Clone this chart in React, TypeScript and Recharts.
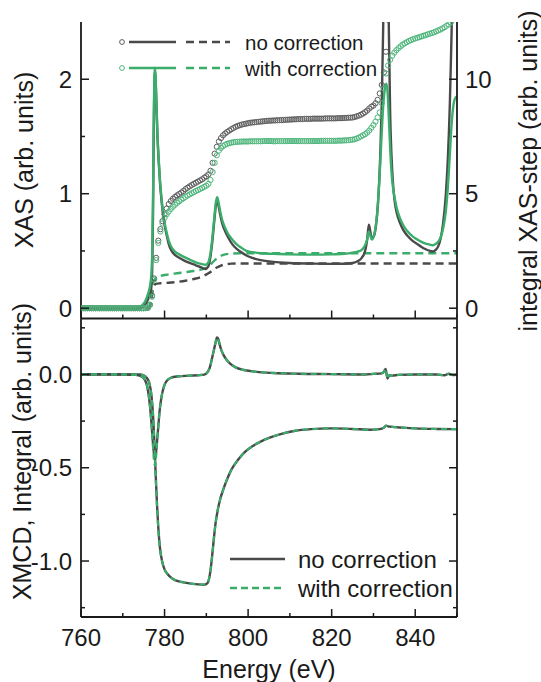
import React from 'react';
import { ComposedChart, Line, Scatter, XAxis, YAxis, Legend } from 'recharts';

const FONT = '"Liberation Sans", Arial, Helvetica, sans-serif';
const INK = '#1a1a1a';
const GRAY = '#4a4a4a';
const GREEN = '#3aad6a';
const GRAY_C = '#5c5c5c';
const GREEN_C = '#4db67b';

// ---------- axis ticks ----------
const xTicks = [760, 770, 780, 790, 800, 810, 820, 830, 840, 850];
const xMajor = [760, 780, 800, 820, 840];
const xasTicks = [0, 0.5, 1, 1.5, 2];
const xasMajor = [0, 1, 2];
const stepTicks = [0, 2.5, 5, 7.5, 10];
const stepMajor = [0, 5, 10];
const xmcdTicks = [0.25, 0, -0.25, -0.5, -0.75, -1, -1.25];
const xmcdMajor = [0, -0.5, -1];

// ---------- top panel: XAS (left axis) ----------
const xasNoCorr: [number, number][] = [
  [760, 0], [765, 0], [770, 0], [773, 0], [774, 0.005], [775, 0.02], [775.7, 0.05], [776.3, 0.1], [776.8, 0.17],
  [777.05, 0.35], [777.25, 0.85], [777.4, 1.5], [777.55, 1.95], [777.7, 2.08], [777.85, 2.0], [778.05, 1.78],
  [778.3, 1.5], [778.6, 1.28], [778.9, 1.1], [779.3, 0.93], [779.7, 0.8], [780.1, 0.71], [780.5, 0.64], [781, 0.56],
  [781.7, 0.5], [782.5, 0.465], [783.5, 0.44], [784.5, 0.42], [786, 0.395], [787.5, 0.375], [789, 0.352],
  [789.8, 0.342], [790.4, 0.36], [790.9, 0.43], [791.4, 0.57], [791.9, 0.76], [792.3, 0.9], [792.6, 0.94],
  [792.9, 0.9], [793.3, 0.82], [793.8, 0.74], [794.4, 0.68], [795.2, 0.62], [796.2, 0.56], [797.2, 0.52],
  [798.3, 0.49], [799.6, 0.46], [801, 0.44], [803, 0.42], [806, 0.405], [810, 0.395], [815, 0.39], [820, 0.387],
  [823, 0.388], [825, 0.395], [826.2, 0.41], [827.2, 0.44], [828, 0.5], [828.5, 0.6], [828.9, 0.73], [829.2, 0.68],
  [829.6, 0.61], [830.1, 0.63], [830.6, 0.72], [831.1, 0.92], [831.6, 1.3], [832, 1.8], [832.4, 2.6], [832.8, 3.4],
  [833.1, 3.6], [833.4, 3.3], [833.7, 2.4], [834, 1.7], [834.3, 1.35], [834.7, 1.08], [835.1, 0.93], [835.6, 0.83],
  [836.3, 0.75], [837.2, 0.68], [838.2, 0.63], [839.3, 0.59], [840.5, 0.56], [841.5, 0.535], [842.5, 0.515],
  [843.5, 0.5], [844.2, 0.495], [844.9, 0.51], [845.5, 0.54], [846.1, 0.61], [846.7, 0.75], [847.3, 0.98],
  [847.8, 1.3], [848.3, 1.8], [848.7, 2.4], [849.1, 3.2], [849.5, 3.6], [849.8, 3.4], [850, 3.1],
];
const xasWithCorr: [number, number][] = [
  [760, 0], [765, 0], [770, 0], [773, 0], [774, 0.01], [775, 0.04], [775.5, 0.07], [776, 0.12], [776.5, 0.19],
  [776.85, 0.3], [777.05, 0.5], [777.25, 1.0], [777.4, 1.6], [777.55, 2.0], [777.7, 2.1], [777.85, 2.02],
  [778.05, 1.8], [778.3, 1.52], [778.6, 1.3], [778.9, 1.12], [779.3, 0.95], [779.7, 0.82], [780.1, 0.73],
  [780.5, 0.66], [781, 0.59], [781.7, 0.53], [782.5, 0.495], [783.5, 0.47], [784.5, 0.45], [786, 0.425],
  [787.5, 0.4], [789, 0.385], [789.8, 0.38], [790.4, 0.395], [790.9, 0.46], [791.4, 0.6], [791.9, 0.79],
  [792.3, 0.93], [792.6, 0.97], [792.9, 0.93], [793.3, 0.85], [793.8, 0.77], [794.4, 0.71], [795.2, 0.65],
  [796.2, 0.6], [797.2, 0.56], [798.3, 0.53], [799.6, 0.5], [801, 0.49], [803, 0.48], [806, 0.475], [810, 0.47],
  [815, 0.468], [820, 0.47], [823, 0.475], [825, 0.485], [826.2, 0.495], [827.2, 0.51], [828, 0.55], [828.5, 0.6],
  [828.9, 0.67], [829.2, 0.64], [829.6, 0.6], [830.1, 0.63], [830.6, 0.73], [831.1, 0.93], [831.6, 1.25],
  [832, 1.55], [832.4, 1.8], [832.8, 1.93], [833.1, 1.96], [833.4, 1.88], [833.7, 1.65], [834, 1.4], [834.3, 1.2],
  [834.7, 1.05], [835.1, 0.96], [835.6, 0.87], [836.3, 0.79], [837.2, 0.72], [838.2, 0.67], [839.3, 0.63],
  [840.5, 0.6], [841.5, 0.58], [842.5, 0.565], [843.5, 0.555], [844.2, 0.55], [844.9, 0.56], [845.5, 0.58],
  [846.1, 0.62], [846.7, 0.7], [847.3, 0.84], [847.8, 1.05], [848.3, 1.35], [848.7, 1.6], [849.1, 1.76],
  [849.5, 1.83], [850, 1.85],
];

// ---------- top panel: step functions (left axis) ----------
const stepNoCorr: [number, number][] = [
  [760, 0], [776, 0], [776.6, 0.03], [777, 0.12], [777.4, 0.19], [777.9, 0.212], [779, 0.218], [781, 0.222], [783, 0.23],
  [785, 0.24], [787, 0.255], [788.5, 0.27], [789.5, 0.285], [790.5, 0.305], [791.5, 0.33], [792.5, 0.355], [793.5, 0.372],
  [794.5, 0.383], [796, 0.389], [798, 0.391], [850, 0.391],
];
const stepWithCorr: [number, number][] = [
  [760, 0], [776, 0], [776.6, 0.05], [777, 0.17], [777.4, 0.24], [777.9, 0.26], [779, 0.28], [781, 0.295], [783, 0.305],
  [785, 0.315], [787, 0.325], [788.5, 0.335], [789.5, 0.345], [790.5, 0.365], [791.5, 0.4], [792.5, 0.435], [793.5, 0.458],
  [794.5, 0.47], [796, 0.477], [798, 0.48], [850, 0.48],
];

// ---------- top panel: integral of XAS-step (right axis), 0.5 eV grid ----------
const intEnergy = [
  760, 760.5, 761, 761.5, 762, 762.5, 763, 763.5, 764, 764.5,
  765, 765.5, 766, 766.5, 767, 767.5, 768, 768.5, 769, 769.5,
  770, 770.5, 771, 771.5, 772, 772.5, 773, 773.5, 774, 774.5,
  775, 775.5, 776, 776.5, 777, 777.5, 778, 778.5, 779, 779.5,
  780, 780.5, 781, 781.5, 782, 782.5, 783, 783.5, 784, 784.5,
  785, 785.5, 786, 786.5, 787, 787.5, 788, 788.5, 789, 789.5,
  790, 790.5, 791, 791.5, 792, 792.5, 793, 793.5, 794, 794.5,
  795, 795.5, 796, 796.5, 797, 797.5, 798, 798.5, 799, 799.5,
  800, 800.5, 801, 801.5, 802, 802.5, 803, 803.5, 804, 804.5,
  805, 805.5, 806, 806.5, 807, 807.5, 808, 808.5, 809, 809.5,
  810, 810.5, 811, 811.5, 812, 812.5, 813, 813.5, 814, 814.5,
  815, 815.5, 816, 816.5, 817, 817.5, 818, 818.5, 819, 819.5,
  820, 820.5, 821, 821.5, 822, 822.5, 823, 823.5, 824, 824.5,
  825, 825.5, 826, 826.5, 827, 827.5, 828, 828.5, 829, 829.5,
  830, 830.5, 831, 831.5, 832, 832.5, 833, 833.5, 834, 834.5,
  835, 835.5, 836, 836.5, 837, 837.5, 838, 838.5, 839, 839.5,
  840, 840.5, 841, 841.5, 842, 842.5, 843, 843.5, 844, 844.5,
  845, 845.5, 846, 846.5, 847, 847.5, 848, 848.5, 849, 849.5,
  850,
];
const intNoCorr = [
  0, 0, 0, 0, 0, 0, 0, 0, 0, 0,
  0, 0, 0, 0, 0, 0, 0, 0, 0, 0,
  0, 0, 0, 0, 0, 0, 0, 0, 0, 0,
  0, 0.005, 0.02, 0.15, 0.55, 1.3, 2.2, 2.95, 3.45, 3.8,
  4.1, 4.35, 4.55, 4.68, 4.78, 4.86, 4.93, 4.99, 5.05, 5.12,
  5.2, 5.26, 5.32, 5.38, 5.43, 5.48, 5.53, 5.58, 5.63, 5.7,
  5.76, 5.84, 6.0, 6.35, 6.75, 7.05, 7.28, 7.43, 7.55, 7.63,
  7.7, 7.76, 7.82, 7.87, 7.92, 7.96, 7.99, 8.02, 8.04, 8.06,
  8.08, 8.1, 8.11, 8.12, 8.13, 8.14, 8.15, 8.16, 8.17, 8.18,
  8.19, 8.19, 8.2, 8.2, 8.21, 8.21, 8.22, 8.22, 8.23, 8.23,
  8.24, 8.24, 8.25, 8.25, 8.26, 8.26, 8.26, 8.27, 8.27, 8.27,
  8.27, 8.28, 8.28, 8.28, 8.28, 8.28, 8.28, 8.29, 8.29, 8.29,
  8.29, 8.29, 8.29, 8.3, 8.3, 8.3, 8.31, 8.31, 8.32, 8.32,
  8.33, 8.35, 8.38, 8.41, 8.45, 8.5, 8.56, 8.63, 8.72, 8.8,
  8.85, 8.95, 9.1, 9.38, 9.75, 10.3, 11.2, 12.6, 14.0,
];
const intWithCorr = [
  0, 0, 0, 0, 0, 0, 0, 0, 0, 0,
  0, 0, 0, 0, 0, 0, 0, 0, 0, 0,
  0, 0, 0, 0, 0, 0, 0, 0, 0, 0,
  0, 0.005, 0.02, 0.15, 0.5, 1.25, 2.1, 2.85, 3.35, 3.7,
  3.95, 4.1, 4.22, 4.33, 4.43, 4.52, 4.6, 4.67, 4.74, 4.8,
  4.86, 4.92, 4.97, 5.02, 5.07, 5.12, 5.16, 5.21, 5.25, 5.3,
  5.35, 5.43, 5.6, 5.95, 6.35, 6.68, 6.88, 7.0, 7.08, 7.14,
  7.18, 7.21, 7.23, 7.25, 7.26, 7.27, 7.27, 7.28, 7.28, 7.28,
  7.28, 7.29, 7.29, 7.29, 7.29, 7.29, 7.29, 7.3, 7.3, 7.3,
  7.3, 7.3, 7.29, 7.29, 7.3, 7.3, 7.3, 7.3, 7.3, 7.3,
  7.3, 7.3, 7.3, 7.3, 7.3, 7.3, 7.3, 7.3, 7.3, 7.3,
  7.3, 7.3, 7.3, 7.3, 7.3, 7.31, 7.31, 7.31, 7.31, 7.31,
  7.31, 7.31, 7.31, 7.32, 7.32, 7.32, 7.33, 7.33, 7.34, 7.35,
  7.36, 7.38, 7.41, 7.45, 7.5, 7.55, 7.6, 7.67, 7.76, 7.88,
  8.0, 8.15, 8.33, 8.55, 8.95, 9.6, 10.25, 10.6, 10.85, 11.03,
  11.16, 11.27, 11.36, 11.44, 11.51, 11.57, 11.62, 11.67, 11.71, 11.75,
  11.78, 11.81, 11.84, 11.87, 11.9, 11.93, 11.96, 11.99, 12.02, 12.05,
  12.09, 12.13, 12.17, 12.22, 12.27, 12.33, 12.4, 12.48, 12.6, 12.75,
  12.9,
];

// ---------- bottom panel: XMCD and its integral ----------
const xmcdNoCorr: [number, number][] = [
  [760, 0], [765, 0.001], [770, 0], [773, -0.002], [774.5, -0.01], [775.3, -0.03], [775.8, -0.06], [776.2, -0.11],
  [776.6, -0.19], [776.9, -0.27], [777.2, -0.36], [777.45, -0.42], [777.7, -0.445], [777.95, -0.42], [778.2, -0.36],
  [778.5, -0.28], [778.8, -0.2], [779.2, -0.13], [779.6, -0.085], [780.1, -0.05], [780.8, -0.028], [781.5, -0.018],
  [782.5, -0.012], [784, -0.009], [786, -0.006], [788, -0.004], [789.5, -0.001], [790.2, 0.01], [790.8, 0.035],
  [791.3, 0.08], [791.8, 0.13], [792.2, 0.17], [792.55, 0.198], [792.85, 0.19], [793.2, 0.16], [793.6, 0.13],
  [794.1, 0.105], [794.8, 0.08], [795.7, 0.058], [797, 0.038], [799, 0.024], [802, 0.014], [806, 0.008], [812, 0.004],
  [820, 0.002], [828, 0], [830, 0.003], [832, 0.006], [832.6, 0.018], [832.9, 0.03], [833.15, 0], [833.4, -0.022],
  [833.7, -0.005], [834.5, -0.006], [836, -0.002], [840, 0], [845, 0], [847, -0.004], [848, 0.004], [849, -0.003],
  [850, 0],
];
const xmcdWithCorr: [number, number][] = [
  [760, 0], [765, 0.001], [770, 0], [773, -0.002], [774.5, -0.01], [775.3, -0.03], [775.8, -0.06], [776.2, -0.11],
  [776.6, -0.19], [776.9, -0.28], [777.2, -0.38], [777.45, -0.46], [777.7, -0.49], [777.95, -0.45], [778.2, -0.37],
  [778.5, -0.28], [778.8, -0.2], [779.2, -0.13], [779.6, -0.085], [780.1, -0.05], [780.8, -0.028], [781.5, -0.018],
  [782.5, -0.012], [784, -0.009], [786, -0.006], [788, -0.004], [789.5, -0.001], [790.2, 0.01], [790.8, 0.035],
  [791.3, 0.08], [791.8, 0.13], [792.2, 0.17], [792.55, 0.198], [792.85, 0.19], [793.2, 0.16], [793.6, 0.13],
  [794.1, 0.105], [794.8, 0.08], [795.7, 0.058], [797, 0.038], [799, 0.024], [802, 0.014], [806, 0.008], [812, 0.004],
  [820, 0.002], [828, 0], [830, 0.003], [832, 0.006], [832.6, 0.02], [832.9, 0.032], [833.15, 0], [833.4, -0.024],
  [833.7, -0.005], [834.5, -0.006], [836, -0.002], [840, 0], [845, 0], [847, -0.004], [848, 0.004], [849, -0.003],
  [850, 0],
];
const integralNoCorr: [number, number][] = [
  [760, 0], [774, 0], [775, -0.005], [775.8, -0.02], [776.4, -0.05], [776.9, -0.12], [777.3, -0.24], [777.6, -0.38],
  [777.9, -0.55], [778.2, -0.7], [778.5, -0.82], [778.9, -0.93], [779.4, -1.0], [780, -1.045], [780.7, -1.07],
  [781.5, -1.088], [782.5, -1.102], [784, -1.112], [786, -1.12], [788, -1.125], [789.5, -1.127], [790.2, -1.12],
  [790.6, -1.1], [791, -1.05], [791.4, -0.97], [791.8, -0.88], [792.2, -0.8], [792.7, -0.73], [793.3, -0.67],
  [794, -0.62], [795, -0.56], [796, -0.51], [797.5, -0.46], [799, -0.42], [801, -0.385], [803, -0.36], [805, -0.34],
  [808, -0.318], [811, -0.303], [815, -0.293], [820, -0.289], [825, -0.292], [829, -0.296], [831.5, -0.293],
  [832.5, -0.285], [833, -0.274], [833.5, -0.278], [834.5, -0.281], [837, -0.285], [840, -0.289], [845, -0.292],
  [850, -0.293],
];
const integralWithCorr: [number, number][] = [
  [760, 0], [774, 0], [775, -0.005], [775.8, -0.02], [776.4, -0.05], [776.9, -0.12], [777.3, -0.245], [777.6, -0.39],
  [777.9, -0.56], [778.2, -0.71], [778.5, -0.825], [778.9, -0.932], [779.4, -1.0], [780, -1.045], [780.7, -1.07],
  [781.5, -1.088], [782.5, -1.102], [784, -1.112], [786, -1.12], [788, -1.125], [789.5, -1.126], [790.2, -1.12],
  [790.6, -1.1], [791, -1.05], [791.4, -0.97], [791.8, -0.88], [792.2, -0.8], [792.7, -0.73], [793.3, -0.67],
  [794, -0.62], [795, -0.56], [796, -0.51], [797.5, -0.46], [799, -0.42], [801, -0.385], [803, -0.36], [805, -0.34],
  [808, -0.318], [811, -0.303], [815, -0.293], [820, -0.289], [825, -0.292], [829, -0.296], [831.5, -0.293],
  [832.5, -0.285], [833, -0.274], [833.5, -0.278], [834.5, -0.281], [837, -0.285], [840, -0.289], [845, -0.292],
  [850, -0.293],
];

// ---------- helpers ----------
const pts = (arr: [number, number][]) => arr.map(([x, y]) => ({ x, y }));
const zipPts = (xs: number[], ys: number[]) => ys.map((y, i) => ({ x: xs[i], y }));
const near = (a: number, b: number) => Math.abs(a - b) < 1e-6;

type Side = 'bottom' | 'top' | 'left' | 'right';
function makeTick(side: Side, majors: number[], fmt?: (v: number) => string) {
  return (props: any) => {
    const { x, y, payload } = props;
    const v = Number(payload?.value);
    const major = majors.some((m) => near(m, v));
    const len = major ? 8 : 4;
    const txt = major && fmt ? fmt(v) : '';
    const ls = { stroke: INK, strokeWidth: 1.5 };
    const ts = { fontSize: 24, fontFamily: FONT, fill: INK };
    if (side === 'bottom') {
      return (
        <g>
          <line x1={x} y1={y} x2={x} y2={y - len} {...ls} />
          {txt ? <text x={x} y={y + 29} textAnchor="middle" {...ts}>{txt}</text> : null}
        </g>
      );
    }
    if (side === 'top') {
      return (
        <g>
          <line x1={x} y1={y} x2={x} y2={y + len} {...ls} />
        </g>
      );
    }
    if (side === 'left') {
      return (
        <g>
          <line x1={x} y1={y} x2={x + len} y2={y} {...ls} />
          {txt ? <text x={x - 9} y={y + 8.6} textAnchor="end" {...ts}>{txt}</text> : null}
        </g>
      );
    }
    return (
      <g>
        <line x1={x} y1={y} x2={x - len} y2={y} {...ls} />
        {txt ? <text x={x + 8} y={y + 8.6} textAnchor="start" {...ts}>{txt}</text> : null}
      </g>
    );
  };
}

const ringShape = (color: string) => (props: any) => {
  const { cx, cy } = props;
  if (cx == null || cy == null) return <g />;
  return <circle cx={cx} cy={cy} r={2.6} fill="none" stroke={color} strokeWidth={1} />;
};

const vTitle = (text: string, x: number, y: number) => () => (
  <text
    x={x}
    y={y}
    transform={`rotate(-90 ${x} ${y})`}
    textAnchor="middle"
    fontSize={25}
    fontFamily={FONT}
    fill={INK}
  >
    {text}
  </text>
);

const axisLine = { stroke: INK, strokeWidth: 1.8 };

const TopLegend = () => (
  <svg width={541} height={682} style={{ position: 'absolute', left: 0, top: 0 }}>
    <circle cx={122} cy={42} r={2.4} fill="none" stroke={GRAY_C} strokeWidth={1} />
    <line x1={129} y1={42} x2={176} y2={42} stroke={GRAY} strokeWidth={2.4} />
    <line x1={186} y1={42} x2={230} y2={42} stroke={GRAY} strokeWidth={2.4} strokeDasharray="8 5" />
    <text x={245} y={50} fontSize={20.5} fontFamily={FONT} fill={INK}>no correction</text>
    <circle cx={122} cy={68} r={2.4} fill="none" stroke={GREEN_C} strokeWidth={1} />
    <line x1={129} y1={68} x2={176} y2={68} stroke={GREEN} strokeWidth={2.4} />
    <line x1={186} y1={68} x2={230} y2={68} stroke={GREEN} strokeWidth={2.4} strokeDasharray="8 5" />
    <text x={245} y={76} fontSize={20.5} fontFamily={FONT} fill={INK}>with correction</text>
  </svg>
);

const BottomLegend = () => (
  <svg width={541} height={682} style={{ position: 'absolute', left: 0, top: 0 }}>
    <line x1={230} y1={559} x2={285} y2={559} stroke={GRAY} strokeWidth={2.4} />
    <text x={298} y={568} fontSize={24} fontFamily={FONT} fill={INK}>no correction</text>
    <line x1={230} y1={588} x2={285} y2={588} stroke={GREEN} strokeWidth={2.4} strokeDasharray="7 4" />
    <text x={298} y={597} fontSize={24} fontFamily={FONT} fill={INK}>with correction</text>
  </svg>
);

const legendWrap = { left: 0, top: 0, width: 541, height: 682, pointerEvents: 'none' as const };

export default function App() {
  return (
    <div style={{ position: 'absolute', left: 0, top: 0, width: 541, height: 682, background: '#fff' }}>
      {/* Top panel: XAS, step and integral */}
      <div style={{ position: 'absolute', left: 0, top: 0 }}>
        <ComposedChart width={541} height={682} margin={{ top: 22, right: 0, bottom: 0, left: 0 }}>
          <XAxis
            xAxisId="b" dataKey="x" type="number" domain={[760, 850]} allowDataOverflow ticks={xTicks} interval={0}
            orientation="bottom" height={363.5} tickSize={0} tickMargin={0} tickLine={false} axisLine={axisLine}
            tick={makeTick('bottom', xMajor)}
          />
          <XAxis
            xAxisId="t" dataKey="x" type="number" domain={[760, 850]} allowDataOverflow ticks={xTicks} interval={0}
            orientation="top" height={0} tickSize={0} tickMargin={0} tickLine={false} axisLine={axisLine}
            tick={makeTick('top', xMajor)}
          />
          <YAxis
            yAxisId="l" type="number" domain={[-0.09, 2.5]} allowDataOverflow ticks={xasTicks} interval={0}
            orientation="left" width={81} tickSize={0} tickMargin={0} tickLine={false} axisLine={axisLine}
            tick={makeTick('left', xasMajor, (v) => String(v))}
            label={vTitle('XAS (arb. units)', 33, 160)}
          />
          <YAxis
            yAxisId="r" type="number" domain={[-0.45, 12.5]} allowDataOverflow ticks={stepTicks} interval={0}
            orientation="right" width={84} tickSize={0} tickMargin={0} tickLine={false} axisLine={axisLine}
            tick={makeTick('right', stepMajor, (v) => String(v))}
            label={vTitle('integral XAS-step (arb. units)', 536.5, 171)}
          />
          <Scatter xAxisId="b" yAxisId="r" data={zipPts(intEnergy, intNoCorr)} dataKey="y"
            shape={ringShape(GRAY_C)} isAnimationActive={false} />
          <Scatter xAxisId="b" yAxisId="r" data={zipPts(intEnergy, intWithCorr)} dataKey="y"
            shape={ringShape(GREEN_C)} isAnimationActive={false} />
          <Line xAxisId="b" yAxisId="l" data={pts(stepNoCorr)} dataKey="y" type="monotone" stroke={GRAY}
            strokeWidth={2.4} strokeDasharray="8 5" dot={false} activeDot={false} isAnimationActive={false} />
          <Line xAxisId="b" yAxisId="l" data={pts(stepWithCorr)} dataKey="y" type="monotone" stroke={GREEN}
            strokeWidth={2.4} strokeDasharray="8 5" dot={false} activeDot={false} isAnimationActive={false} />
          <Line xAxisId="b" yAxisId="l" data={pts(xasNoCorr)} dataKey="y" type="monotone" stroke={GRAY}
            strokeWidth={2.4} dot={false} activeDot={false} isAnimationActive={false} />
          <Line xAxisId="b" yAxisId="l" data={pts(xasWithCorr)} dataKey="y" type="monotone" stroke={GREEN}
            strokeWidth={2.4} dot={false} activeDot={false} isAnimationActive={false} />
          <Legend content={TopLegend} layout="horizontal" verticalAlign="middle" align="center" wrapperStyle={legendWrap} />
        </ComposedChart>
      </div>

      {/* Bottom panel: XMCD and integral */}
      <div style={{ position: 'absolute', left: 0, top: 0 }}>
        <ComposedChart width={541} height={682} margin={{ top: 318.5, right: 0, bottom: 0, left: 0 }}>
          <XAxis
            xAxisId="b" dataKey="x" type="number" domain={[760, 850]} allowDataOverflow ticks={xTicks} interval={0}
            orientation="bottom" height={65} tickSize={0} tickMargin={0} tickLine={false} axisLine={axisLine}
            tick={makeTick('bottom', xMajor, (v) => String(v))}
            label={() => (
              <text x={269} y={678} textAnchor="middle" fontSize={25} fontFamily={FONT} fill={INK}>Energy (eV)</text>
            )}
          />
          <XAxis
            xAxisId="t" dataKey="x" type="number" domain={[760, 850]} allowDataOverflow ticks={xTicks} interval={0}
            orientation="top" height={0} tickSize={0} tickMargin={0} tickLine={false} axisLine={axisLine}
            tick={makeTick('top', xMajor)}
          />
          <YAxis
            yAxisId="l" type="number" domain={[-1.3, 0.3]} allowDataOverflow ticks={xmcdTicks} interval={0}
            orientation="left" width={81} tickSize={0} tickMargin={0} tickLine={false} axisLine={axisLine}
            tick={makeTick('left', xmcdMajor, (v) => v.toFixed(1))}
            label={vTitle('XMCD, Integral (arb. units)', 31, 451.5)}
          />
          <YAxis
            yAxisId="r" type="number" domain={[-1.3, 0.3]} allowDataOverflow ticks={xmcdTicks} interval={0}
            orientation="right" width={84} tickSize={0} tickMargin={0} tickLine={false} axisLine={axisLine}
            tick={makeTick('right', xmcdMajor)}
          />
          <Line xAxisId="b" yAxisId="l" data={pts(xmcdNoCorr)} dataKey="y" type="monotone" stroke={GRAY}
            strokeWidth={2.4} dot={false} activeDot={false} isAnimationActive={false} />
          <Line xAxisId="b" yAxisId="l" data={pts(integralNoCorr)} dataKey="y" type="monotone" stroke={GRAY}
            strokeWidth={2.4} dot={false} activeDot={false} isAnimationActive={false} />
          <Line xAxisId="b" yAxisId="l" data={pts(xmcdWithCorr)} dataKey="y" type="monotone" stroke={GREEN}
            strokeWidth={2.1} strokeDasharray="6 4" dot={false} activeDot={false} isAnimationActive={false} />
          <Line xAxisId="b" yAxisId="l" data={pts(integralWithCorr)} dataKey="y" type="monotone" stroke={GREEN}
            strokeWidth={2.1} strokeDasharray="6 4" dot={false} activeDot={false} isAnimationActive={false} />
          <Legend content={BottomLegend} layout="horizontal" verticalAlign="middle" align="center" wrapperStyle={legendWrap} />
        </ComposedChart>
      </div>
    </div>
  );
}
